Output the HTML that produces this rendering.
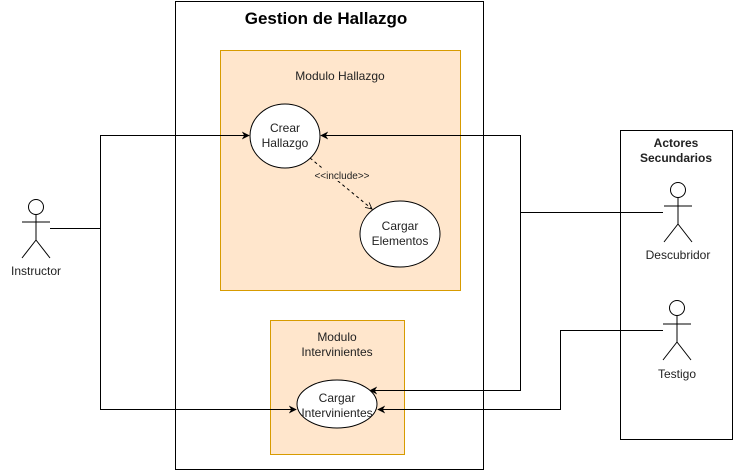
<!DOCTYPE html>
<html><head><style>body{margin:0;background:#fff}svg{display:block}text{font-family:"Liberation Sans",sans-serif;fill:#222}</style></head><body>
<svg width="742" height="471" viewBox="0 0 742 471" xmlns="http://www.w3.org/2000/svg">
<defs><marker id="a" viewBox="0 0 10 10" refX="9" refY="5" markerWidth="8" markerHeight="8" orient="auto"><path d="M0,0 L10,5 L0,10 L3,5z" fill="#000"/></marker>
<marker id="o" viewBox="0 0 10 10" refX="9" refY="5" markerWidth="8" markerHeight="8" orient="auto"><path d="M1,1 L9,5 L1,9" fill="none" stroke="#000"/></marker></defs>
<rect x="175.5" y="1.5" width="308" height="468" fill="#fff" stroke="#000"/>
<text x="326" y="24" font-size="17" font-weight="bold" text-anchor="middle" style="fill:#000">Gestion de Hallazgo</text>
<rect x="220.5" y="50.5" width="240" height="240" fill="#ffe6cc" stroke="#d79b00"/>
<text x="340" y="80" font-size="12" text-anchor="middle">Modulo Hallazgo</text>
<rect x="270.5" y="320.5" width="134" height="134" fill="#ffe6cc" stroke="#d79b00"/>
<text x="337" y="341" font-size="12" text-anchor="middle">Modulo</text>
<text x="337" y="356" font-size="12" text-anchor="middle">Intervinientes</text>
<rect x="620.5" y="130.5" width="112" height="309" fill="#fff" stroke="#000"/>
<text x="676" y="147" font-size="12" font-weight="bold" text-anchor="middle">Actores</text>
<text x="676" y="162" font-size="12" font-weight="bold" text-anchor="middle">Secundarios</text>
<g fill="none" stroke="#000" stroke-width="1">
<path d="M50,228.5 H100.5 V409.5 H296" marker-end="url(#a)"/>
<path d="M100.5,228 V135.5 H249" marker-end="url(#a)"/>
<path d="M663,212.5 H520.5 V135.5 H321" marker-end="url(#a)"/>
<path d="M520.5,212 V390.5 H370" marker-end="url(#a)"/>
<path d="M663,330.5 H560.5 V409.5 H378" marker-end="url(#a)"/>
<path d="M310,158 L372,209" stroke-dasharray="3,3" marker-end="url(#o)"/>
</g>
<rect x="312" y="169" width="60" height="12" fill="#ffe6cc"/>
<text x="342" y="179" font-size="10" text-anchor="middle">&lt;&lt;include&gt;&gt;</text>
<ellipse cx="285" cy="136" rx="35" ry="32" fill="#fff" stroke="#000"/>
<text x="285" y="132" font-size="12" text-anchor="middle">Crear</text>
<text x="285" y="147" font-size="12" text-anchor="middle">Hallazgo</text>
<ellipse cx="400" cy="234" rx="40" ry="33" fill="#fff" stroke="#000"/>
<text x="400" y="230" font-size="12" text-anchor="middle">Cargar</text>
<text x="400" y="245" font-size="12" text-anchor="middle">Elementos</text>
<ellipse cx="337" cy="404" rx="40" ry="24" fill="#fff" stroke="#000"/>
<text x="337" y="402" font-size="12" text-anchor="middle">Cargar</text>
<text x="337" y="417" font-size="12" text-anchor="middle">Intervinientes</text>
<g fill="#fff" stroke="#000">
<circle cx="36" cy="207" r="7.5"/><path d="M36,214.5 V240 M22,222 H50 M36,240 L22,258 M36,240 L50,258" fill="none"/>
<circle cx="678" cy="190" r="7.5"/><path d="M678,197.5 V224 M664,206 H692 M678,224 L664,242 M678,224 L692,242" fill="none"/>
<circle cx="677" cy="308" r="7.5"/><path d="M677,315.5 V342 M663,324 H691 M677,342 L663,360 M677,342 L691,360" fill="none"/>
</g>
<text x="36" y="275" font-size="12" text-anchor="middle">Instructor</text>
<text x="678" y="259" font-size="12" text-anchor="middle">Descubridor</text>
<text x="677" y="378" font-size="12" text-anchor="middle">Testigo</text>
</svg>
</body></html>
